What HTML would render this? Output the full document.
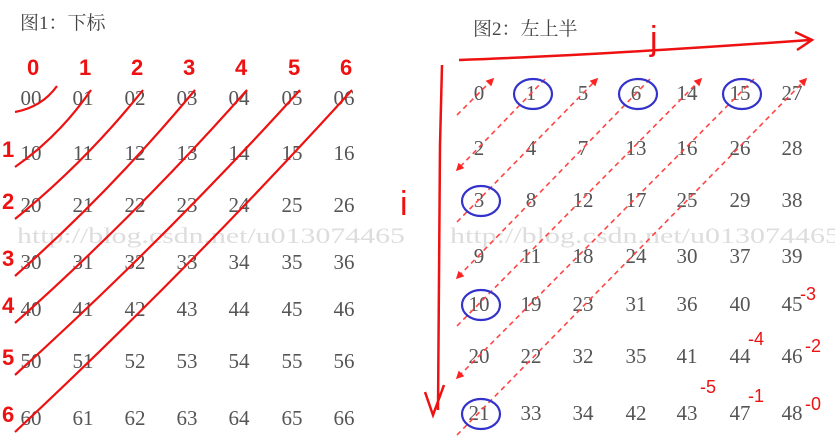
<!DOCTYPE html>
<html><head><meta charset="utf-8"><style>
html,body{margin:0;padding:0;background:#fff;}
svg{display:block}
</style></head><body>
<svg width="835" height="442" viewBox="0 0 835 442" id="svg">
<defs>
<marker id="ah" viewBox="0 0 10 10" refX="8" refY="5" markerWidth="5" markerHeight="5" orient="auto"><path d="M0,0L10,5L0,10z" fill="#f22"/></marker>
</defs>
<text x="20" y="29" font-family="'Liberation Serif','Noto Serif CJK SC',serif" font-size="19" fill="#444">图1：下标</text>
<text x="473" y="35" font-family="'Liberation Serif','Noto Serif CJK SC',serif" font-size="19" fill="#444">图2：左上半</text>
<g font-family="'Liberation Serif',serif" fill="#ddd">
<text x="17" y="243" textLength="388" lengthAdjust="spacingAndGlyphs" font-size="22">http://blog.csdn.net/u013074465</text>
<text x="450" y="243" textLength="390" lengthAdjust="spacingAndGlyphs" font-size="22">http://blog.csdn.net/u013074465</text>
</g>
<g id="left"></g><g id="right"></g><g id="ann"></g>
</svg>
<script>
const leftCols=[31,83,135,187,239,292,344];
const leftRows=[98,153,205,262,309,361,418];
const rightCols=[479,531,583,636,687,740,792];
const rightRows=[93,148,200,256,304,356,413];
const rightValues=[
[0,1,5,6,14,15,27],
[2,4,7,13,16,26,28],
[3,8,12,17,25,29,38],
[9,11,18,24,30,37,39],
[10,19,23,31,36,40,45],
[20,22,32,35,41,44,46],
[21,33,34,42,43,47,48]];
const circled=[[0,1],[0,3],[0,5],[2,0],[4,0],[6,0]];
const NS="http://www.w3.org/2000/svg";
const L=document.getElementById('left'),R=document.getElementById('right'),A=document.getElementById('ann');
function mk(tag,attrs,parent){const e=document.createElementNS(NS,tag);for(const k in attrs)e.setAttribute(k,attrs[k]);parent.appendChild(e);return e;}
for(let r=0;r<7;r++)for(let c=0;c<7;c++){
 const t=mk('text',{x:leftCols[c],y:leftRows[r]+7,'text-anchor':'middle','font-family':'Liberation Serif,serif','font-size':21,fill:'#555'},L);
 t.textContent=''+r+c;
 
 
 const u=mk('text',{x:rightCols[c],y:rightRows[r]+7,'text-anchor':'middle','font-family':'Liberation Serif,serif','font-size':21,fill:'#555'},R);
 u.textContent=rightValues[r][c];
 
 
}
for(let k=0;k<7;k++){
 const x1=leftCols[0]-16,y1=leftRows[k]+14,x2=leftCols[k]+(k?8:26),y2=leftRows[0]-(k?8:12);
 const p=mk('path',{d:`M${k%2?x2:x1},${k%2?y2:y1} Q${(x1+x2)/2+6},${(y1+y2)/2+8} ${k%2?x1:x2},${k%2?y1:y2}`,stroke:'#e11',fill:'none','stroke-width':2.2},A);
 
 
 const ln=mk('text',{x:leftCols[k]-4,y:75,'font-family':'Liberation Sans,sans-serif','font-size':22,fill:'#e11','font-weight':'bold'},A);
 ln.textContent=k;
 
 
 if(k>0){const rl=mk('text',{x:2,y:leftRows[k]+4,'font-family':'Liberation Sans,sans-serif','font-size':22,fill:'#e11','font-weight':'bold'},A);
 rl.textContent=k;
 
 }
}
for(let k=0;k<7;k++){
 const r0=Math.min(k,6),c0=k-r0,c1=Math.min(k,6),r1=k-c1;
 let x1=rightCols[c0]-22,y1=rightRows[r0]+22,x2=rightCols[c1]+14,y2=rightRows[r1]-14;
 const up=k%2==0;
 const d=mk('line',{x1:up?x1:x2,y1:up?y1:y2,x2:up?x2:x1,y2:up?y2:y1,stroke:'#f44','stroke-width':1.6,'stroke-dasharray':'5,4','marker-end':'url(#ah)'},A);
 
 
}
for(const [r,c] of circled){
 const e=mk('ellipse',{cx:rightCols[c]+2,cy:rightRows[r]+1,rx:19,ry:15,stroke:'#33c','stroke-width':2.2,fill:'none'},A);
 
 
}
const ax1=mk('path',{d:'M459,60 Q600,55 810,40 M795,32 L812,40 L797,50',stroke:'#e11','stroke-width':2.5,fill:'none'},A);


const ax2=mk('path',{d:'M442,65 L440,145 L438,410 M425,392 L433,415 L444,385',stroke:'#e11','stroke-width':2.5,fill:'none'},A);


const jl=mk('text',{x:650,y:50,'font-family':'Liberation Sans,sans-serif','font-size':34,fill:'#e11'},A);jl.textContent='j';


const il=mk('text',{x:400,y:215,'font-family':'Liberation Sans,sans-serif','font-size':34,fill:'#e11'},A);il.textContent='i';


const marks=[[800,300,'-3'],[748,345,'-4'],[805,352,'-2'],[700,393,'-5'],[748,402,'-1'],[805,410,'-0']];
for(const m of marks){const t=mk('text',{x:m[0],y:m[1],'font-family':'Liberation Sans,sans-serif','font-size':18,fill:'#e11'},A);t.textContent=m[2];

}
</script>
</body></html>
